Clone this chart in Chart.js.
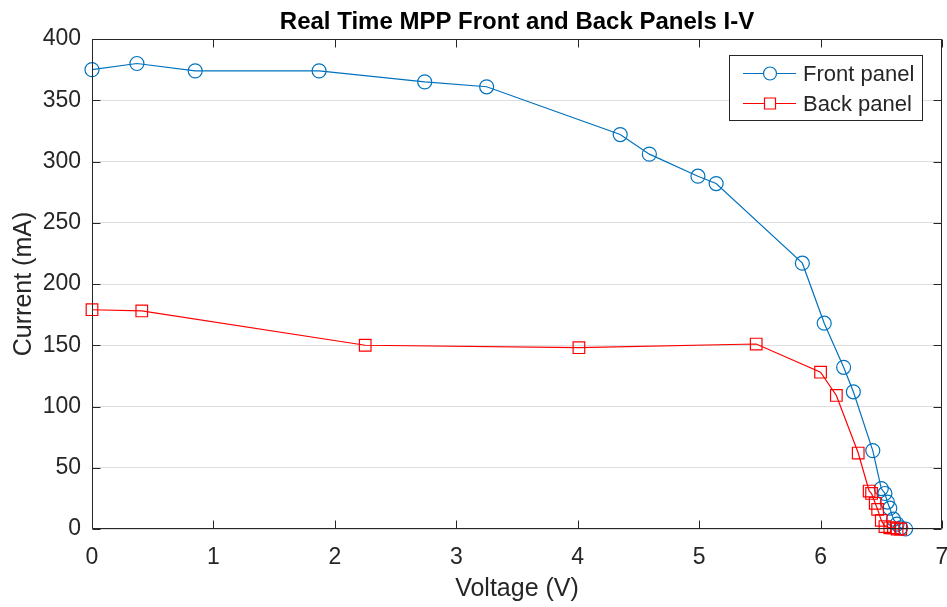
<!DOCTYPE html>
<html>
<head>
<meta charset="utf-8">
<title>Real Time MPP Front and Back Panels I-V</title>
<script src="https://cdn.jsdelivr.net/npm/chart.js@4.4.1/dist/chart.umd.min.js"></script>
<style>
  html, body { margin: 0; padding: 0; background: #ffffff; }
  #wrap { width: 947px; height: 607px; }
</style>
</head>
<body>
<div id="wrap"><canvas id="iv" width="947" height="607"></canvas></div>
<script>
// Measured I-V sweep, voltage in V and current in mA
const frontVoltage = [0, 0.37, 0.85, 1.87, 2.74, 3.25, 4.35, 4.59, 4.99, 5.14, 5.85, 6.03, 6.19, 6.27, 6.43, 6.50, 6.53, 6.55, 6.57, 6.60, 6.63, 6.66, 6.70];
const frontCurrent = [375, 380, 374, 374, 365, 361, 322, 306, 288, 282, 217, 168, 132, 112, 64, 33, 29, 22, 17, 8, 4, 1, 0];

const backVoltage = [0, 0.41, 2.25, 4.01, 5.47, 6.00, 6.13, 6.31, 6.40, 6.42, 6.45, 6.47, 6.50, 6.53, 6.57, 6.60, 6.63, 6.66];
const backCurrent = [179, 178, 150, 148, 151, 128, 109, 62, 31, 29, 21, 16, 7, 2, 1, 1, 0, 0];

const seriesNames = ['Front panel', 'Back panel'];
const xTicks = [0, 1, 2, 3, 4, 5, 6, 7];
const yTicks = [0, 50, 100, 150, 200, 250, 300, 350, 400];
const chartTitle = 'Real Time MPP Front and Back Panels I-V';
const xTitle = 'Voltage (V)';
const yTitle = 'Current (mA)';

const FONT = '"Liberation Sans", Arial, Helvetica, sans-serif';
const INK = '#262626';
const BLUE = '#0072BD';
const RED = '#FF0000';
const PLOT_RIGHT = 942;

function toPoints(xs, ys) {
  return xs.map((x, i) => ({ x: x, y: ys[i] }));
}

// Box around the axes, inward tick marks on all four sides, title and legend
const framePlugin = {
  id: 'frame',
  afterLayout(chart) {
    // let the plot area run right up to the edge; the last tick label may overhang
    const a = chart.chartArea;
    const x = chart.scales.x;
    a.right = PLOT_RIGHT;
    a.width = a.right - a.left;
    x.right = PLOT_RIGHT;
    x.width = x.right - x.left;
    x.configure();
  },
  afterDraw(chart) {
    const { ctx, chartArea: a, scales } = chart;
    const L = a.left + 0.5, R = a.right - 0.5, T = a.top + 0.5, B = a.bottom - 0.5;
    const tick = 8;
    ctx.save();
    ctx.strokeStyle = INK;
    ctx.lineWidth = 1;
    ctx.beginPath();
    ctx.rect(L, T, R - L, B - T);
    xTicks.forEach(v => {
      const px = Math.round(scales.x.getPixelForValue(v)) + 0.5;
      ctx.moveTo(px, B); ctx.lineTo(px, B - tick);
      ctx.moveTo(px, T); ctx.lineTo(px, T + tick);
    });
    yTicks.forEach(v => {
      const py = Math.round(scales.y.getPixelForValue(v)) + 0.5;
      ctx.moveTo(L, py); ctx.lineTo(L + tick, py);
      ctx.moveTo(R, py); ctx.lineTo(R - tick, py);
    });
    ctx.stroke();

    // title, centred over the plot area
    ctx.fillStyle = '#000000';
    ctx.font = 'bold 24px ' + FONT;
    ctx.textAlign = 'center';
    ctx.textBaseline = 'middle';
    ctx.fillText(chartTitle, (a.left + a.right) / 2, 22);

    // legend box in the upper right corner
    const bx = 729.5, by = 55.5, bw = 193, bh = 65;
    ctx.fillStyle = '#ffffff';
    ctx.fillRect(bx, by, bw, bh);
    ctx.strokeStyle = INK;
    ctx.strokeRect(bx, by, bw, bh);
    const rows = [73.5, 103.5];
    chart.data.datasets.forEach((ds, i) => {
      const y = rows[i];
      ctx.strokeStyle = ds.borderColor;
      ctx.lineWidth = 1.2;
      ctx.beginPath();
      ctx.moveTo(743, y); ctx.lineTo(796, y);
      ctx.stroke();
      ctx.beginPath();
      ctx.fillStyle = '#ffffff';
      if (ds.pointStyle === 'rect') {
        ctx.rect(770 - 5.5, y - 5.5, 11, 11);
      } else {
        ctx.arc(770, y, 6.5, 0, Math.PI * 2);
      }
      ctx.fill();
      ctx.stroke();
      ctx.fillStyle = INK;
      ctx.font = '22px ' + FONT;
      ctx.textAlign = 'left';
      ctx.textBaseline = 'middle';
      ctx.fillText(ds.label, 803, y + 1);
    });
    ctx.restore();
  }
};

new Chart(document.getElementById('iv'), {
  type: 'scatter',
  data: {
    datasets: [
      {
        label: seriesNames[0],
        data: toPoints(frontVoltage, frontCurrent),
        showLine: true,
        clip: false,
        borderColor: BLUE,
        backgroundColor: 'rgba(0,0,0,0)',
        borderWidth: 1.2,
        pointStyle: 'circle',
        pointRadius: 7,
        pointBorderWidth: 1.2,
        pointBackgroundColor: 'rgba(0,0,0,0)',
        pointBorderColor: BLUE,
        order: 1
      },
      {
        label: seriesNames[1],
        data: toPoints(backVoltage, backCurrent),
        showLine: true,
        clip: false,
        borderColor: RED,
        backgroundColor: 'rgba(0,0,0,0)',
        borderWidth: 1.2,
        pointStyle: 'rect',
        pointRadius: 8.2,
        pointBorderWidth: 1.2,
        pointBackgroundColor: 'rgba(0,0,0,0)',
        pointBorderColor: RED,
        order: 0
      }
    ]
  },
  options: {
    responsive: false,
    animation: false,
    devicePixelRatio: 1,
    layout: { padding: { top: 39, right: 5, left: 0, bottom: 0 } },
    plugins: {
      legend: { display: false },
      title: { display: false },
      tooltip: { enabled: false }
    },
    scales: {
      x: {
        type: 'linear',
        min: 0,
        max: 7,
        afterBuildTicks(scale) { scale.ticks = xTicks.map(v => ({ value: v })); },
        ticks: { color: INK, font: { family: FONT, size: 23 }, padding: 15, maxRotation: 0 },
        grid: { display: false, drawTicks: false },
        border: { display: false },
        title: { display: true, text: xTitle, color: INK, font: { family: FONT, size: 25 }, padding: { top: 0, bottom: 3 } },
        afterFit(scale) { scale.height = 78; }
      },
      y: {
        type: 'linear',
        min: 0,
        max: 400,
        afterBuildTicks(scale) { scale.ticks = yTicks.map(v => ({ value: v })); },
        ticks: { color: INK, font: { family: FONT, size: 23 }, padding: 11 },
        grid: { color: '#dedede', lineWidth: 1, drawTicks: false },
        border: { display: false },
        title: { display: true, text: yTitle, color: INK, font: { family: FONT, size: 25 }, padding: { top: 9, bottom: 0 } },
        afterFit(scale) { scale.width = 92; scale.paddingTop = 0; scale.paddingBottom = 0; }
      }
    }
  },
  plugins: [framePlugin]
});
</script>
</body>
</html>
